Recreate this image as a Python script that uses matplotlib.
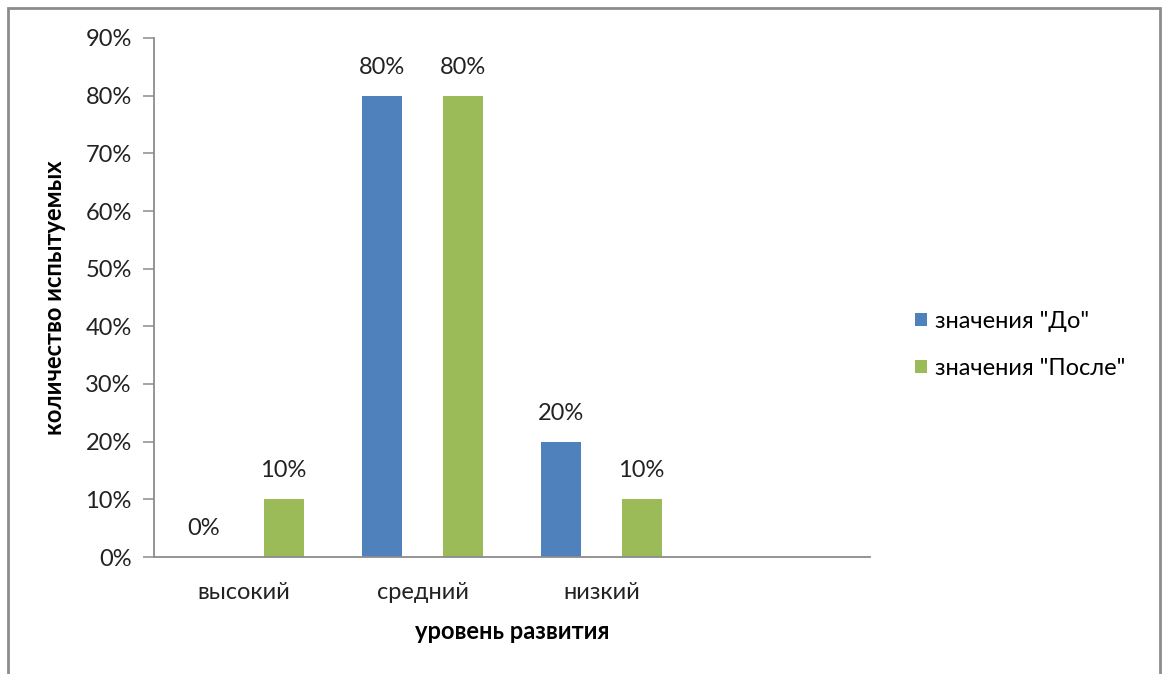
import matplotlib
matplotlib.use("Agg")
import matplotlib.pyplot as plt
import numpy as np
from matplotlib.patches import Rectangle

# уровни развития; последняя категория пустая
levels = ["высокий", "средний", "низкий", ""]
before = [0, 80, 20, np.nan]
after = [10, 80, 10, np.nan]
series_names = ['значения "До"', 'значения "После"']
yticks = [0, 10, 20, 30, 40, 50, 60, 70, 80, 90]

plt.rcParams['font.family'] = ['Lato', 'DejaVu Sans']
fs = 17

W, H = 1166, 674
fig = plt.figure(figsize=(W / 100, H / 100), dpi=100)
ax = fig.add_axes([154 / W, (H - 557) / H, (870 - 154) / W, (557 - 38) / H])

x = np.arange(len(levels))
w = 0.2235
b1 = ax.bar(x - w, before, w, color="#4f81bd", label=series_names[0])
b2 = ax.bar(x + w, after, w, color="#9bbb59", label=series_names[1])

for bars, vals in ((b1, before), (b2, after)):
    for rect, v in zip(bars, vals):
        if np.isnan(v):
            continue
        ax.annotate(f"{v:.0f}%", (rect.get_x() + rect.get_width() / 2, v),
                    xytext=(0, 13), textcoords="offset points",
                    ha="center", va="bottom", fontsize=fs, color="#222222")

ax.set_xlim(-0.5, len(levels) - 0.5)
ax.set_ylim(0, 90)
ax.set_yticks(yticks)
ax.set_yticklabels([f"{t}%" for t in yticks])
ax.set_xticks(x)
ax.set_xticklabels(levels)

gray = "#8c8c8c"
for side in ("top", "right"):
    ax.spines[side].set_visible(False)
for side in ("left", "bottom"):
    ax.spines[side].set_color(gray)
    ax.spines[side].set_linewidth(1.3)
ax.tick_params(axis="y", length=8, width=1.1, color=gray, labelsize=fs, pad=8,
               labelcolor="#222222")
ax.tick_params(axis="x", length=0, labelsize=fs, pad=18, labelcolor="#222222")

ax.set_xlabel("уровень развития", fontsize=fs, fontweight="bold", labelpad=12)
ax.set_ylabel("количество испытуемых", fontsize=fs, fontweight="bold", labelpad=14)

leg = fig.legend(handles=[b1, b2], loc="center left", bbox_to_anchor=(894 / W, 1 - 345 / H),
                 frameon=False, fontsize=fs, handlelength=0.5, handleheight=0.5,
                 handletextpad=0.35, labelspacing=1.1)

# рамка вокруг диаграммы
fig.patches.append(Rectangle((8 / W, -0.05), (1160 - 8) / W, 1.05 - 8 / H,
                             transform=fig.transFigure, fill=False,
                             edgecolor="#8c8c8c", linewidth=2))

fig.savefig("out.png", dpi=100)
